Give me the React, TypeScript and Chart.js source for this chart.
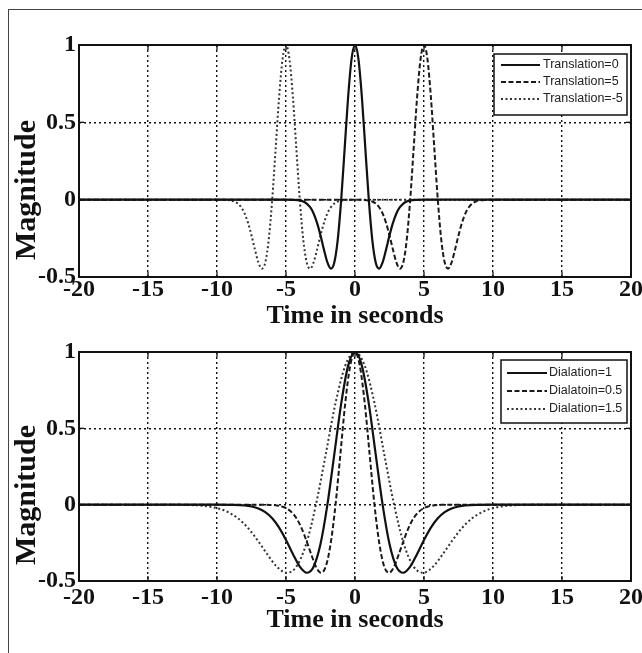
import React, { useEffect, useRef } from "react";
import { Chart, registerables } from "chart.js";

Chart.register(...registerables);

// ---------------- data ----------------
const xTickValues = [-20, -15, -10, -5, 0, 5, 10, 15, 20];
const yTickValues = [-0.5, 0, 0.5, 1];
const xAxisTitle = "Time in seconds";
const yAxisTitle = "Magnitude";

const translationLabels = ["Translation=0", "Translation=5", "Translation=-5"];
const dilationLabels = ["Dialation=1", "Dialatoin=0.5", "Dialation=1.5"];

// Translation = 0
const trans0Time = [-20, -5, -4.5, -4, -3.75, -3.5, -3.25, -3, -2.75, -2.5, -2.25, -2, -1.75, -1.5, -1.25, -1, -0.75, -0.5, -0.25, 0, 0.25, 0.5, 0.75, 1, 1.25, 1.5, 1.75, 2, 2.25, 2.5, 2.75, 3, 3.25, 3.5, 3.75, 4, 4.5, 5, 20];
const trans0Value = [0, 0, -0.001, -0.005, -0.012, -0.025, -0.049, -0.089, -0.15, -0.231, -0.323, -0.406, -0.446, -0.406, -0.258, 0, 0.33, 0.662, 0.909, 1, 0.909, 0.662, 0.33, 0, -0.258, -0.406, -0.446, -0.406, -0.323, -0.231, -0.15, -0.089, -0.049, -0.025, -0.012, -0.005, -0.001, 0, 0];

// Translation = 5
const trans5Time = [-20, 0, 0.5, 1, 1.25, 1.5, 1.75, 2, 2.25, 2.5, 2.75, 3, 3.25, 3.5, 3.75, 4, 4.25, 4.5, 4.75, 5, 5.25, 5.5, 5.75, 6, 6.25, 6.5, 6.75, 7, 7.25, 7.5, 7.75, 8, 8.25, 8.5, 8.75, 9, 9.5, 10, 20];
const trans5Value = [0, 0, -0.001, -0.005, -0.012, -0.025, -0.049, -0.089, -0.15, -0.231, -0.323, -0.406, -0.446, -0.406, -0.258, 0, 0.33, 0.662, 0.909, 1, 0.909, 0.662, 0.33, 0, -0.258, -0.406, -0.446, -0.406, -0.323, -0.231, -0.15, -0.089, -0.049, -0.025, -0.012, -0.005, -0.001, 0, 0];

// Translation = -5
const transM5Time = [-20, -10, -9.5, -9, -8.75, -8.5, -8.25, -8, -7.75, -7.5, -7.25, -7, -6.75, -6.5, -6.25, -6, -5.75, -5.5, -5.25, -5, -4.75, -4.5, -4.25, -4, -3.75, -3.5, -3.25, -3, -2.75, -2.5, -2.25, -2, -1.75, -1.5, -1.25, -1, -0.5, 0, 20];
const transM5Value = [0, 0, -0.001, -0.005, -0.012, -0.025, -0.049, -0.089, -0.15, -0.231, -0.323, -0.406, -0.446, -0.406, -0.258, 0, 0.33, 0.662, 0.909, 1, 0.909, 0.662, 0.33, 0, -0.258, -0.406, -0.446, -0.406, -0.323, -0.231, -0.15, -0.089, -0.049, -0.025, -0.012, -0.005, -0.001, 0, 0];

// Dialation = 1
const dil1Time = [-20, -10, -9, -8, -7.5, -7, -6.5, -6, -5.5, -5, -4.5, -4, -3.5, -3, -2.5, -2, -1.5, -1, -0.5, 0, 0.5, 1, 1.5, 2, 2.5, 3, 3.5, 4, 4.5, 5, 5.5, 6, 6.5, 7, 7.5, 8, 9, 10, 20];
const dil1Value = [0, 0, -0.001, -0.005, -0.012, -0.025, -0.049, -0.089, -0.15, -0.231, -0.323, -0.406, -0.446, -0.406, -0.258, 0, 0.33, 0.662, 0.909, 1, 0.909, 0.662, 0.33, 0, -0.258, -0.406, -0.446, -0.406, -0.323, -0.231, -0.15, -0.089, -0.049, -0.025, -0.012, -0.005, -0.001, 0, 0];

// Dialatoin = 0.5
const dil05Time = [-20, -7.07, -6.36, -5.66, -5.3, -4.95, -4.6, -4.24, -3.89, -3.54, -3.18, -2.83, -2.47, -2.12, -1.77, -1.41, -1.06, -0.71, -0.35, 0, 0.35, 0.71, 1.06, 1.41, 1.77, 2.12, 2.47, 2.83, 3.18, 3.54, 3.89, 4.24, 4.6, 4.95, 5.3, 5.66, 6.36, 7.07, 20];
const dil05Value = [0, 0, -0.001, -0.005, -0.012, -0.025, -0.049, -0.089, -0.15, -0.231, -0.323, -0.406, -0.446, -0.406, -0.258, 0, 0.33, 0.662, 0.909, 1, 0.909, 0.662, 0.33, 0, -0.258, -0.406, -0.446, -0.406, -0.323, -0.231, -0.15, -0.089, -0.049, -0.025, -0.012, -0.005, -0.001, 0, 0];

// Dialation = 1.5
const dil15Time = [-20, -14.15, -12.74, -11.32, -10.61, -9.91, -9.2, -8.49, -7.78, -7.08, -6.37, -5.66, -4.95, -4.25, -3.54, -2.83, -2.12, -1.42, -0.71, 0, 0.71, 1.42, 2.12, 2.83, 3.54, 4.25, 4.95, 5.66, 6.37, 7.08, 7.78, 8.49, 9.2, 9.91, 10.61, 11.32, 12.74, 14.15, 20];
const dil15Value = [0, 0, -0.001, -0.005, -0.012, -0.025, -0.049, -0.089, -0.15, -0.231, -0.323, -0.406, -0.446, -0.406, -0.258, 0, 0.33, 0.662, 0.909, 1, 0.909, 0.662, 0.33, 0, -0.258, -0.406, -0.446, -0.406, -0.323, -0.231, -0.15, -0.089, -0.049, -0.025, -0.012, -0.005, -0.001, 0, 0];

// ---------------- styles ----------------
const SERIF = '"Liberation Serif", "Times New Roman", serif';
const INK = "#111";
const solidStyle = { dash: [] as number[], color: "#111", width: 2.2 };
const dashedStyle = { dash: [5, 2.5], color: "#1a1a1a", width: 2 };
const dottedStyle = { dash: [2, 2.5], color: "#333", width: 2 };

type Series = { label: string; t: number[]; v: number[]; style: { dash: number[]; color: string; width: number } };

const topSeries: Series[] = [
  { label: translationLabels[0], t: trans0Time, v: trans0Value, style: solidStyle },
  { label: translationLabels[1], t: trans5Time, v: trans5Value, style: dashedStyle },
  { label: translationLabels[2], t: transM5Time, v: transM5Value, style: dottedStyle },
];

const bottomSeries: Series[] = [
  { label: dilationLabels[0], t: dil1Time, v: dil1Value, style: solidStyle },
  { label: dilationLabels[1], t: dil05Time, v: dil05Value, style: dashedStyle },
  { label: dilationLabels[2], t: dil15Time, v: dil15Value, style: dottedStyle },
];

// ---------------- plugins ----------------
const framePlugin = {
  id: "frame",
  afterDatasetsDraw(chart: any) {
    const { ctx, chartArea: a, scales } = chart;
    ctx.save();
    ctx.setLineDash([]);
    ctx.strokeStyle = INK;
    ctx.lineWidth = 2;
    ctx.strokeRect(a.left, a.top, a.right - a.left, a.bottom - a.top);
    ctx.lineWidth = 1.3;
    const seg = (x1: number, y1: number, x2: number, y2: number) => {
      ctx.beginPath();
      ctx.moveTo(x1, y1);
      ctx.lineTo(x2, y2);
      ctx.stroke();
    };
    for (const v of xTickValues) {
      const x = scales.x.getPixelForValue(v);
      seg(x, a.bottom, x, a.bottom - 5);
      seg(x, a.top, x, a.top + 5);
    }
    for (const v of yTickValues) {
      const y = scales.y.getPixelForValue(v);
      seg(a.left, y, a.left + 5, y);
      seg(a.right, y, a.right - 5, y);
    }
    ctx.restore();
  },
};

const yTitlePlugin = {
  id: "yTitle",
  afterDraw(chart: any, _args: any, o: any) {
    const ctx = chart.ctx;
    ctx.save();
    ctx.translate(o.x, o.y);
    ctx.rotate(-Math.PI / 2);
    ctx.fillStyle = INK;
    ctx.font = `bold 30px ${SERIF}`;
    ctx.textAlign = "center";
    ctx.textBaseline = "middle";
    ctx.fillText(o.text, 0, 0);
    ctx.restore();
  },
};

const boxLegendPlugin = {
  id: "boxLegend",
  afterDraw(chart: any, _args: any, o: any) {
    const ctx = chart.ctx;
    ctx.save();
    ctx.fillStyle = "#fff";
    ctx.fillRect(o.x, o.y, o.w, o.h);
    ctx.setLineDash([]);
    ctx.strokeStyle = INK;
    ctx.lineWidth = 1.5;
    ctx.strokeRect(o.x, o.y, o.w, o.h);
    chart.data.datasets.forEach((ds: any, i: number) => {
      const cy = o.y + o.firstRow + i * o.rowGap;
      ctx.beginPath();
      ctx.setLineDash(ds.borderDash || []);
      ctx.strokeStyle = ds.borderColor;
      ctx.lineWidth = ds.borderWidth;
      ctx.moveTo(o.x + o.lineStart, cy);
      ctx.lineTo(o.x + o.lineEnd, cy);
      ctx.stroke();
      ctx.setLineDash([]);
      ctx.fillStyle = "#222";
      ctx.font = o.font;
      ctx.textBaseline = "middle";
      ctx.textAlign = "left";
      ctx.fillText(ds.label, o.x + o.textStart, cy);
    });
    ctx.restore();
  },
};

type PanelOpts = {
  padTop: number;
  xHeight: number;
  xTickPad: number;
  xTitlePad: number;
  yTitleY: number;
  legend: any;
};

function buildConfig(series: Series[], p: PanelOpts): any {
  return {
    type: "line",
    data: {
      datasets: series.map((s) => ({
        label: s.label,
        data: s.t.map((t, i) => ({ x: t, y: s.v[i] })),
        borderColor: s.style.color,
        borderWidth: s.style.width,
        borderDash: s.style.dash,
        pointRadius: 0,
        fill: false,
        cubicInterpolationMode: "monotone",
      })),
    },
    options: {
      responsive: false,
      animation: false,
      events: [],
      layout: { padding: { top: p.padTop, right: 11, left: 0, bottom: 0 } },
      plugins: {
        legend: { display: false },
        tooltip: { enabled: false },
        boxLegend: p.legend,
        yTitle: { text: yAxisTitle, x: 27, y: p.yTitleY },
      },
      scales: {
        x: {
          type: "linear",
          min: -20,
          max: 20,
          afterBuildTicks: (sc: any) => {
            sc.ticks = xTickValues.map((v) => ({ value: v }));
          },
          afterFit: (sc: any) => {
            sc.height = p.xHeight;
            sc.paddingLeft = 0;
            sc.paddingRight = 0;
          },
          grid: { color: INK, lineWidth: 1.4, drawTicks: false },
          border: { display: false, dash: [2, 3] },
          ticks: {
            color: INK,
            padding: p.xTickPad,
            maxRotation: 0,
            autoSkip: false,
            font: { family: SERIF, size: 24, weight: "bold", lineHeight: 1 },
            callback: (v: any) => String(v),
          },
          title: {
            display: true,
            text: xAxisTitle,
            color: INK,
            font: { family: SERIF, size: 26, weight: "bold", lineHeight: 1 },
            padding: { top: 0, bottom: p.xTitlePad },
          },
        },
        y: {
          type: "linear",
          min: -0.5,
          max: 1,
          afterBuildTicks: (sc: any) => {
            sc.ticks = yTickValues.map((v) => ({ value: v }));
          },
          afterFit: (sc: any) => {
            sc.width = 79;
            sc.paddingTop = 0;
            sc.paddingBottom = 0;
          },
          grid: { color: INK, lineWidth: 1.4, drawTicks: false },
          border: { display: false, dash: [2, 3] },
          ticks: {
            color: INK,
            padding: 3,
            autoSkip: false,
            font: { family: SERIF, size: 24, weight: "bold", lineHeight: 1 },
            callback: (v: any) => String(v),
          },
          title: { display: false, text: yAxisTitle },
        },
      },
    },
    plugins: [framePlugin, boxLegendPlugin, yTitlePlugin],
  };
}

function Panel({ series, top, height, opts }: { series: Series[]; top: number; height: number; opts: PanelOpts }) {
  const ref = useRef<HTMLCanvasElement | null>(null);
  useEffect(() => {
    if (!ref.current) return;
    const chart = new Chart(ref.current, buildConfig(series, opts));
    return () => chart.destroy();
  }, []);
  return (
    <canvas
      ref={ref}
      width={642}
      height={height}
      style={{ position: "absolute", left: 0, top, width: 642, height, display: "block" }}
    />
  );
}

const topOpts: PanelOpts = {
  padTop: 45,
  xHeight: 63,
  xTickPad: 1,
  xTitlePad: 11,
  yTitleY: 190,
  legend: { x: 494, y: 54, w: 133, h: 61, firstRow: 11, rowGap: 17, lineStart: 7, lineEnd: 46, textStart: 49, font: '12.5px "Liberation Sans", Arial, sans-serif' },
};

const bottomOpts: PanelOpts = {
  padTop: 12,
  xHeight: 72,
  xTickPad: 5,
  xTitlePad: 20,
  yTitleY: 155,
  legend: { x: 501, y: 20, w: 126, h: 63, firstRow: 13, rowGap: 18, lineStart: 6, lineEnd: 46, textStart: 48, font: '12.5px "Liberation Sans", Arial, sans-serif' },
};

export default function App() {
  return (
    <div style={{ position: "fixed", left: 0, top: 0, width: 642, height: 653, background: "#fff", overflow: "hidden" }}>
      <div
        style={{
          position: "absolute",
          left: 8,
          top: 9,
          right: -4,
          bottom: -4,
          borderLeft: "1.5px solid #444",
          borderTop: "1.5px solid #444",
        }}
      />
      <Panel series={topSeries} top={0} height={340} opts={topOpts} />
      <Panel series={bottomSeries} top={340} height={313} opts={bottomOpts} />
    </div>
  );
}
